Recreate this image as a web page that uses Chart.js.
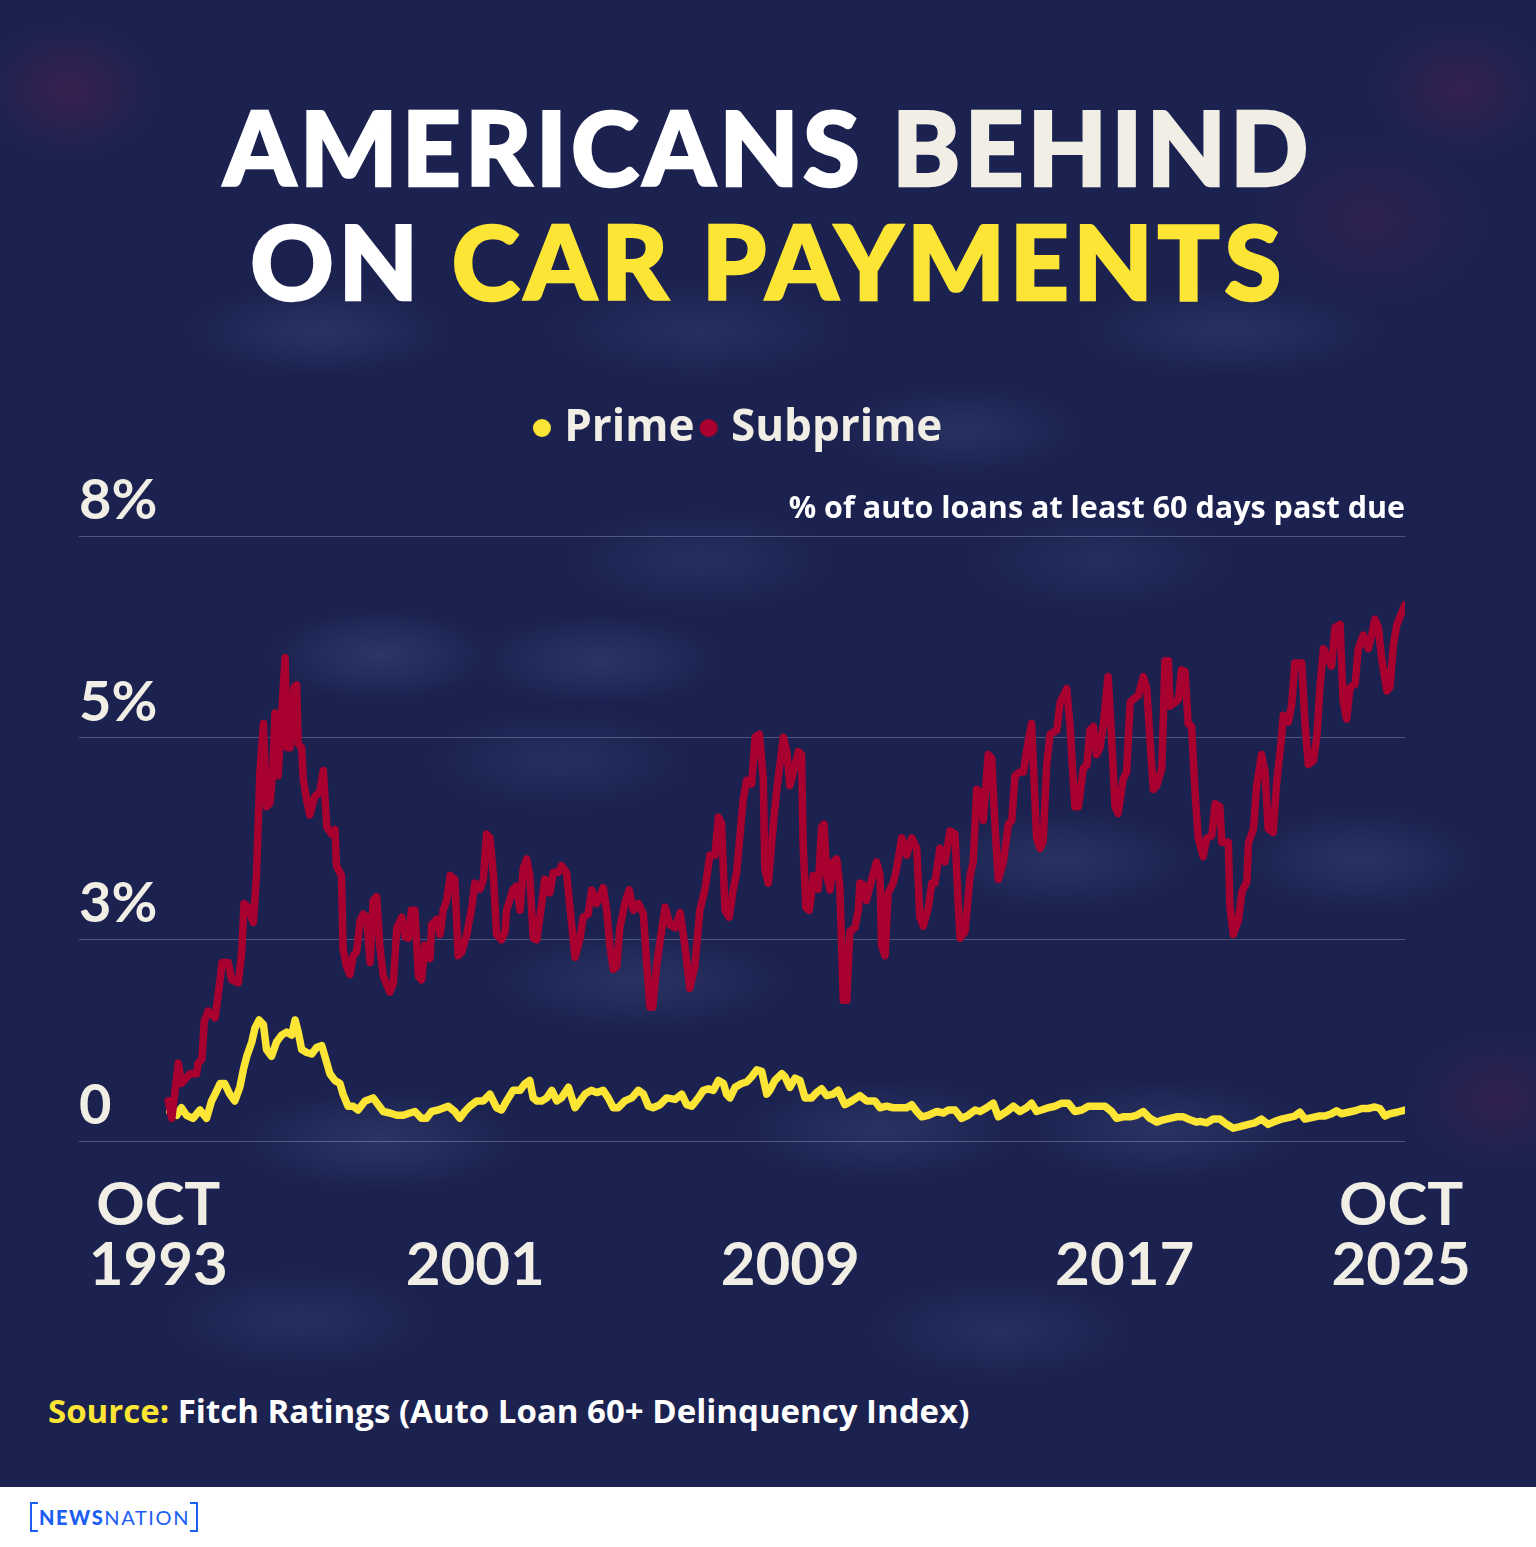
<!DOCTYPE html>
<html>
<head>
<meta charset="utf-8">
<script src="https://cdn.jsdelivr.net/npm/chart.js@4.4.0/dist/chart.umd.min.js"></script>
<style>
html,body{margin:0;padding:0;}
body{width:1536px;height:1547px;overflow:hidden;position:relative;background:#1b2250;font-family:Lato,sans-serif;}
#bg{position:absolute;left:0;top:0;width:1536px;height:1487px;
background:
 radial-gradient(ellipse 110px 45px at 380px 655px, rgba(58,72,122,0.55), rgba(58,72,122,0) 100%),
 radial-gradient(ellipse 120px 45px at 600px 660px, rgba(58,72,122,0.5), rgba(58,72,122,0) 100%),
 radial-gradient(ellipse 140px 50px at 380px 1140px, rgba(58,72,122,0.5), rgba(58,72,122,0) 100%),
 radial-gradient(ellipse 150px 50px at 640px 980px, rgba(58,72,122,0.45), rgba(58,72,122,0) 100%),
 radial-gradient(ellipse 140px 50px at 880px 1130px, rgba(58,72,122,0.45), rgba(58,72,122,0) 100%),
 radial-gradient(ellipse 140px 50px at 1160px 1130px, rgba(58,72,122,0.45), rgba(58,72,122,0) 100%),
 radial-gradient(ellipse 130px 50px at 1060px 860px, rgba(58,72,122,0.45), rgba(58,72,122,0) 100%),
 radial-gradient(ellipse 120px 50px at 1360px 860px, rgba(58,72,122,0.45), rgba(58,72,122,0) 100%),
 radial-gradient(ellipse 120px 45px at 960px 430px, rgba(58,72,122,0.4), rgba(58,72,122,0) 100%),
 radial-gradient(ellipse 130px 45px at 320px 330px, rgba(58,72,122,0.45), rgba(58,72,122,0) 100%),
 radial-gradient(ellipse 150px 45px at 1230px 330px, rgba(58,72,122,0.4), rgba(58,72,122,0) 100%),
 radial-gradient(ellipse 150px 50px at 700px 330px, rgba(58,72,122,0.35), rgba(58,72,122,0) 100%),
 radial-gradient(ellipse 130px 50px at 300px 1320px, rgba(58,72,122,0.35), rgba(58,72,122,0) 100%),
 radial-gradient(ellipse 130px 50px at 1000px 1330px, rgba(58,72,122,0.35), rgba(58,72,122,0) 100%),
 radial-gradient(ellipse 130px 50px at 700px 560px, rgba(58,72,122,0.35), rgba(58,72,122,0) 100%),
 radial-gradient(ellipse 130px 50px at 1100px 560px, rgba(58,72,122,0.3), rgba(58,72,122,0) 100%),
 radial-gradient(ellipse 130px 50px at 560px 760px, rgba(58,72,122,0.35), rgba(58,72,122,0) 100%),
 radial-gradient(ellipse 90px 70px at 70px 90px, rgba(110,30,80,0.35), rgba(110,30,80,0) 100%),
 radial-gradient(ellipse 90px 70px at 1460px 90px, rgba(110,30,80,0.3), rgba(110,30,80,0) 100%),
 radial-gradient(ellipse 90px 70px at 1500px 1100px, rgba(100,30,80,0.3), rgba(100,30,80,0) 100%),
 radial-gradient(ellipse 120px 90px at 1370px 220px, rgba(100,30,80,0.25), rgba(100,30,80,0) 100%),
 #1b2250;}
.t{position:absolute;left:0;width:1536px;text-align:center;font-family:Lato,sans-serif;font-weight:900;font-size:103px;line-height:104px;white-space:nowrap;letter-spacing:4px;}
.t span{-webkit-text-stroke-width:2.4px;}
#l1{top:94px;}
#l2{top:208px;letter-spacing:4.6px;}
#chartWrap{position:absolute;left:0;top:380px;width:1536px;height:955px;}
#source{position:absolute;left:48px;top:1393px;font:700 33px/35px "Open Sans",sans-serif;color:#ffffff;white-space:nowrap;}
#footer{position:absolute;left:0;top:1487px;width:1536px;height:60px;background:#ffffff;}
#logo{position:absolute;left:30px;top:15px;width:168px;height:30px;box-sizing:border-box;border-left:2px solid #1c5df2;border-right:2px solid #1c5df2;font:20px/30px Lato,sans-serif;color:#1c5df2;text-align:center;letter-spacing:1.6px;padding-left:1px;}
.bk{position:absolute;width:8px;height:2px;background:#1c5df2;}
</style>
</head>
<body>
<div id="bg"></div>
<div class="t" id="l1"><span style="color:#ffffff">AMERICANS</span> <span style="color:#f1eee6">BEHIND</span></div>
<div class="t" id="l2"><span style="color:#ffffff">ON</span> <span style="color:#fde536">CAR PAYMENTS</span></div>
<div id="chartWrap"><canvas id="c" width="1536" height="955" style="width:1536px;height:955px"></canvas></div>
<div id="source"><span style="color:#fde536">Source:</span> Fitch Ratings (Auto Loan 60+ Delinquency Index)</div>
<div id="footer">
  <div id="logo"><b style="font-weight:900">NEWS</b>NATION</div>
  <div class="bk" style="left:30px;top:15px"></div>
  <div class="bk" style="left:30px;top:43px"></div>
  <div class="bk" style="left:190px;top:15px"></div>
  <div class="bk" style="left:190px;top:43px"></div>
</div>
<script>
// ---- data (values on the chart's linear axis; tick labels as printed) ----
const subprimeYears = [1993.76,1993.85,1994.02,1994.10,1994.32,1994.49,1994.53,1994.63,1994.69,1994.79,1994.97,1995.10,1995.15,1995.31,1995.40,1995.57,1995.66,1995.72,1995.83,1995.96,1996.04,1996.13,1996.22,1996.30,1996.39,1996.46,1996.52,1996.60,1996.69,1996.78,1996.84,1996.91,1997.01,1997.08,1997.12,1997.21,1997.25,1997.34,1997.42,1997.55,1997.68,1997.77,1997.86,1997.98,1998.07,1998.11,1998.24,1998.28,1998.37,1998.46,1998.54,1998.63,1998.72,1998.80,1998.89,1998.98,1999.06,1999.15,1999.23,1999.32,1999.49,1999.58,1999.67,1999.80,1999.88,1999.97,2000.05,2000.14,2000.23,2000.31,2000.40,2000.53,2000.57,2000.70,2000.79,2000.87,2000.96,2001.05,2001.17,2001.26,2001.35,2001.48,2001.61,2001.69,2001.82,2001.91,2001.99,2002.08,2002.17,2002.25,2002.38,2002.47,2002.51,2002.68,2002.77,2002.86,2002.94,2003.03,2003.11,2003.20,2003.29,2003.42,2003.50,2003.63,2003.72,2003.85,2003.93,2004.06,2004.28,2004.41,2004.49,2004.62,2004.71,2004.84,2005.01,2005.10,2005.18,2005.27,2005.36,2005.44,2005.57,2005.68,2005.79,2005.92,2006.05,2006.13,2006.22,2006.29,2006.39,2006.48,2006.61,2006.74,2006.87,2007.00,2007.12,2007.25,2007.38,2007.51,2007.64,2007.77,2007.90,2007.99,2008.07,2008.16,2008.27,2008.37,2008.46,2008.55,2008.63,2008.72,2008.85,2008.94,2009.05,2009.15,2009.19,2009.28,2009.41,2009.50,2009.58,2009.67,2009.76,2009.84,2009.93,2010.06,2010.14,2010.18,2010.25,2010.34,2010.40,2010.44,2010.57,2010.66,2010.72,2010.79,2010.88,2010.96,2011.05,2011.13,2011.22,2011.31,2011.39,2011.52,2011.61,2011.65,2011.74,2011.82,2011.91,2012.00,2012.08,2012.17,2012.21,2012.30,2012.38,2012.51,2012.60,2012.73,2012.86,2012.99,2013.12,2013.20,2013.29,2013.42,2013.51,2013.59,2013.72,2013.85,2013.98,2014.11,2014.20,2014.24,2014.37,2014.50,2014.58,2014.67,2014.76,2014.84,2014.97,2015.06,2015.14,2015.23,2015.36,2015.49,2015.58,2015.66,2015.79,2015.88,2015.96,2016.09,2016.13,2016.22,2016.31,2016.39,2016.48,2016.57,2016.74,2016.83,2017.00,2017.08,2017.21,2017.30,2017.43,2017.52,2017.60,2017.69,2017.77,2017.86,2017.95,2018.07,2018.16,2018.25,2018.33,2018.46,2018.55,2018.64,2018.72,2018.85,2018.98,2019.07,2019.15,2019.24,2019.33,2019.46,2019.54,2019.63,2019.67,2019.80,2019.89,2019.97,2020.06,2020.14,2020.23,2020.32,2020.40,2020.53,2020.62,2020.75,2020.84,2020.96,2021.01,2021.18,2021.22,2021.31,2021.44,2021.53,2021.66,2021.70,2021.83,2021.91,2022.04,2022.13,2022.21,2022.34,2022.43,2022.56,2022.60,2022.73,2022.82,2022.90,2023.08,2023.16,2023.25,2023.38,2023.47,2023.55,2023.64,2023.77,2023.85,2023.94,2024.07,2024.15,2024.24,2024.33,2024.46,2024.54,2024.67,2024.80,2024.89,2024.97,2025.06,2025.15,2025.28,2025.36,2025.45,2025.54,2025.62,2025.75];
const subprimeValues = [0.53,0.30,1.03,0.76,0.89,0.89,1.03,1.08,1.58,1.72,1.63,2.13,2.36,2.36,2.13,2.09,2.50,3.14,3.09,2.89,3.51,4.88,5.52,4.42,4.47,4.88,5.66,4.83,5.61,6.39,5.20,5.20,6.00,6.03,5.25,5.20,4.79,4.51,4.31,4.56,4.61,4.90,4.15,4.06,4.12,3.64,3.51,2.54,2.31,2.20,2.45,2.50,2.91,3.00,2.96,2.36,3.18,3.23,2.59,2.18,1.97,2.08,2.82,2.96,2.70,2.68,3.05,3.05,2.18,2.13,2.59,2.41,2.86,2.93,2.73,3.05,3.18,3.51,3.46,2.45,2.50,2.73,3.09,3.41,3.33,3.46,4.06,4.01,3.51,2.73,2.66,2.77,3.05,3.33,3.37,3.05,3.60,3.73,3.51,2.68,2.66,3.14,3.46,3.28,3.55,3.55,3.64,3.55,2.43,2.68,2.96,3.00,3.32,3.14,3.35,3.05,2.59,2.27,2.31,2.82,3.14,3.32,3.05,3.14,3.00,2.36,1.77,1.77,2.31,2.64,3.09,2.86,2.82,3.02,2.59,2.02,2.31,3.05,3.32,3.78,3.78,4.28,4.20,3.05,2.96,3.32,3.55,4.06,4.51,4.77,4.72,5.34,5.38,4.79,3.60,3.41,4.19,4.65,4.97,5.34,5.14,4.70,4.88,5.15,5.11,3.96,3.09,3.05,3.28,3.51,3.33,4.15,4.19,3.51,3.32,3.69,3.73,3.37,1.86,1.86,2.77,2.82,3.05,3.41,3.39,3.18,3.37,3.55,3.69,3.51,2.59,2.45,3.28,3.41,3.60,4.01,3.78,4.01,3.87,2.96,2.84,3.09,3.41,3.41,3.87,3.69,4.10,4.06,3.05,2.68,2.77,3.51,3.69,4.65,4.61,4.24,5.11,5.06,4.20,3.46,3.69,4.19,4.24,4.83,4.88,4.88,5.15,5.52,5.06,4.01,3.87,3.96,4.97,5.38,5.43,5.80,5.98,5.52,4.42,4.42,4.93,4.97,5.43,5.48,5.11,5.20,5.52,6.14,5.34,4.42,4.33,4.79,4.88,5.80,5.84,5.89,6.14,5.98,5.34,4.65,4.70,4.93,6.35,6.35,5.75,5.80,5.84,6.23,6.21,5.52,5.48,4.61,4.01,3.76,4.00,4.04,4.46,4.42,3.95,3.95,3.11,2.73,2.92,3.29,3.43,3.94,4.13,4.69,5.11,4.88,4.13,4.08,4.74,5.35,5.63,5.54,5.77,6.32,6.32,5.54,4.98,5.03,5.35,6.00,6.51,6.37,6.28,6.79,6.83,5.81,5.58,6.00,6.04,6.51,6.69,6.51,6.69,6.90,6.79,6.37,5.95,6.00,6.56,6.83,6.93,7.09];

const primeYears = [1993.80,1993.98,1994.10,1994.23,1994.40,1994.58,1994.75,1994.88,1994.97,1995.10,1995.22,1995.35,1995.48,1995.61,1995.70,1995.79,1995.92,1996.00,1996.11,1996.22,1996.30,1996.43,1996.56,1996.69,1996.82,1996.95,1997.04,1997.12,1997.21,1997.34,1997.47,1997.60,1997.73,1997.81,1997.94,1998.07,1998.20,1998.28,1998.41,1998.54,1998.67,1998.85,1999.06,1999.19,1999.32,1999.49,1999.67,1999.84,2000.01,2000.14,2000.31,2000.44,2000.57,2000.74,2001.00,2001.17,2001.30,2001.43,2001.56,2001.74,2001.91,2002.08,2002.25,2002.38,2002.51,2002.68,2002.86,2002.99,2003.11,2003.20,2003.29,2003.42,2003.55,2003.68,2003.81,2003.93,2004.11,2004.28,2004.41,2004.54,2004.71,2004.84,2005.01,2005.14,2005.27,2005.40,2005.57,2005.75,2005.92,2006.05,2006.18,2006.30,2006.48,2006.65,2006.87,2007.04,2007.17,2007.30,2007.47,2007.60,2007.73,2007.86,2007.99,2008.12,2008.20,2008.29,2008.42,2008.59,2008.72,2008.85,2008.98,2009.11,2009.24,2009.32,2009.45,2009.63,2009.71,2009.84,2009.97,2010.10,2010.23,2010.40,2010.53,2010.66,2010.79,2010.96,2011.09,2011.26,2011.44,2011.65,2011.82,2012.04,2012.17,2012.34,2012.51,2012.69,2012.86,2012.99,2013.12,2013.25,2013.42,2013.64,2013.81,2013.94,2014.11,2014.28,2014.45,2014.63,2014.76,2014.93,2015.10,2015.23,2015.45,2015.62,2015.79,2015.96,2016.09,2016.22,2016.35,2016.52,2016.70,2016.87,2017.04,2017.21,2017.39,2017.56,2017.77,2017.99,2018.16,2018.29,2018.46,2018.64,2018.81,2018.98,2019.15,2019.33,2019.50,2019.67,2019.84,2020.02,2020.19,2020.36,2020.45,2020.62,2020.79,2020.96,2021.14,2021.31,2021.48,2021.70,2021.87,2022.04,2022.21,2022.39,2022.56,2022.73,2022.90,2023.03,2023.16,2023.34,2023.51,2023.68,2023.85,2023.98,2024.11,2024.28,2024.46,2024.63,2024.80,2024.97,2025.10,2025.23,2025.36,2025.54,2025.75];
const primeValues = [0.39,0.34,0.44,0.34,0.30,0.41,0.30,0.53,0.62,0.76,0.76,0.62,0.53,0.71,0.94,1.12,1.31,1.49,1.60,1.54,1.21,1.12,1.31,1.40,1.44,1.40,1.60,1.44,1.21,1.17,1.15,1.24,1.26,1.12,0.89,0.80,0.76,0.62,0.46,0.46,0.41,0.53,0.57,0.48,0.39,0.37,0.34,0.34,0.37,0.39,0.30,0.30,0.39,0.41,0.46,0.39,0.30,0.39,0.46,0.53,0.53,0.62,0.44,0.41,0.53,0.67,0.67,0.76,0.80,0.57,0.53,0.53,0.57,0.67,0.53,0.57,0.71,0.44,0.53,0.62,0.67,0.64,0.67,0.57,0.44,0.44,0.53,0.57,0.67,0.62,0.46,0.44,0.48,0.57,0.55,0.62,0.48,0.46,0.57,0.67,0.69,0.67,0.80,0.76,0.62,0.57,0.71,0.76,0.78,0.85,0.94,0.92,0.62,0.67,0.80,0.89,0.85,0.71,0.83,0.80,0.57,0.57,0.64,0.69,0.60,0.62,0.67,0.48,0.53,0.60,0.53,0.53,0.44,0.46,0.44,0.44,0.44,0.48,0.39,0.32,0.34,0.39,0.37,0.41,0.41,0.30,0.34,0.41,0.39,0.44,0.50,0.32,0.39,0.46,0.39,0.44,0.50,0.39,0.41,0.44,0.46,0.50,0.50,0.39,0.41,0.46,0.46,0.46,0.39,0.30,0.32,0.32,0.34,0.39,0.30,0.25,0.28,0.30,0.32,0.32,0.28,0.25,0.26,0.24,0.29,0.29,0.22,0.17,0.19,0.22,0.24,0.29,0.22,0.26,0.29,0.31,0.33,0.38,0.29,0.31,0.33,0.33,0.36,0.40,0.36,0.38,0.40,0.43,0.43,0.45,0.43,0.33,0.36,0.38,0.41];

const seriesNames = ['Prime', 'Subprime'];
const yTickValues = [0, 2.667, 5.333, 8];
const yTickLabels = ['0', '3%', '5%', '8%'];
const xTickYears = [1993.5, 2001.7, 2009.85, 2018.5, 2025.65];
const xTickLabels = [['OCT', '1993'], ['', '2001'], ['', '2009'], ['', '2017'], ['OCT', '2025']];
const subtitleText = '% of auto loans at least 60 days past due';

// ---- styling ----
const YELLOW = '#fde536';
const RED = '#a8002f';
const CREAM = '#f1eee6';

Chart.defaults.font.family = 'Lato, sans-serif';

// small filled circles used as the legend markers
function dot(color) {
  const c = document.createElement('canvas');
  c.width = 20; c.height = 20;
  const g = c.getContext('2d');
  g.fillStyle = color;
  g.beginPath(); g.arc(10, 10, 9, 0, Math.PI * 2); g.fill();
  return c;
}

const toPoints = (xs, ys) => xs.map((x, i) => ({x: x, y: ys[i]}));

new Chart(document.getElementById('c'), {
  type: 'line',
  data: {
    datasets: [
      {label: seriesNames[0], data: toPoints(primeYears, primeValues), borderColor: YELLOW, backgroundColor: YELLOW,
       borderWidth: 7.5, pointRadius: 0, borderJoinStyle: 'round', borderCapStyle: 'round', order: 2, pointStyle: dot(YELLOW)},
      {label: seriesNames[1], data: toPoints(subprimeYears, subprimeValues), borderColor: RED, backgroundColor: RED,
       borderWidth: 7.5, pointRadius: 0, borderJoinStyle: 'round', borderCapStyle: 'round', order: 1, pointStyle: dot(RED)}
    ]
  },
  options: {
    responsive: false,
    animation: false,
    maintainAspectRatio: false,
    layout: {padding: {left: 79, right: 131, top: 12, bottom: 4}},
    plugins: {
      legend: {
        display: true, position: 'top', align: 'center',
        labels: {
          usePointStyle: true, boxHeight: 11.3, pointStyleWidth: 0.5, padding: 14,
          color: CREAM, font: {family: '"Open Sans", sans-serif', size: 44, weight: 'bold'},
          sort: (a, b) => a.datasetIndex - b.datasetIndex
        }
      },
      subtitle: {
        display: true, text: subtitleText, align: 'end', color: '#ffffff', weight: 500, fullSize: false,
        font: {family: '"Open Sans", sans-serif', size: 30.5, weight: 'bold'}, padding: {top: 31, bottom: 8.4}
      },
      tooltip: {enabled: false}
    },
    scales: {
      x: {
        type: 'linear', min: 1991.45, max: 2025.75,
        afterBuildTicks: (s) => { s.ticks = xTickYears.map(v => ({value: v})); },
        ticks: {autoSkip: false, maxRotation: 0, minRotation: 0, padding: 35, color: CREAM,
          font: {size: 60, weight: 'bold', lineHeight: 1},
          callback: (v, i) => xTickLabels[i]},
        grid: {display: false, drawTicks: false},
        border: {display: false}
      },
      y: {
        type: 'linear', min: 0, max: 8,
        afterBuildTicks: (s) => { s.ticks = yTickValues.map(v => ({value: v})); },
        ticks: {mirror: true, padding: 0, labelOffset: -35, color: CREAM,
          font: {size: 56, weight: 'bold'},
          callback: (v, i) => yTickLabels[i]},
        grid: {color: 'rgba(200,205,230,0.3)', lineWidth: 1, drawTicks: false, tickLength: 0},
        border: {display: false}
      }
    }
  }
});
</script>
</body>
</html>
